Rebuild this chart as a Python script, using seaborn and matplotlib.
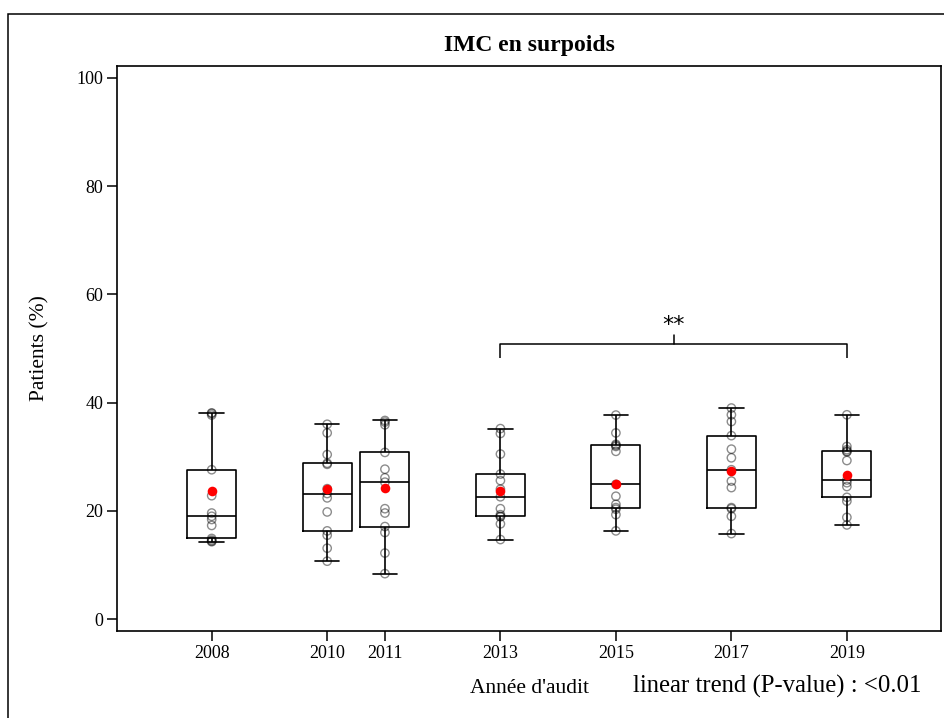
import numpy as np
import pandas as pd
import matplotlib
matplotlib.use("Agg")
import matplotlib.pyplot as plt
from matplotlib.patches import Rectangle
import seaborn as sns

# Audit years and per-centre percentage of overweight patients
years = [2008, 2010, 2011, 2013, 2015, 2017, 2019]
pct_2008 = [14.3, 14.4, 14.6, 14.9, 17.3, 18.4, 19.0, 19.6, 22.8, 27.6, 37.7, 38.0, 38.1]
pct_2010 = [10.7, 13.1, 15.5, 16.3, 19.8, 22.4, 23.2, 24.1, 28.6, 28.8, 30.4, 34.4, 36.0]
pct_2011 = [8.4, 12.2, 16.0, 17.1, 19.6, 20.4, 25.3, 26.1, 27.7, 30.8, 35.9, 36.4, 36.7]
pct_2013 = [14.7, 17.6, 18.9, 19.0, 19.3, 20.4, 22.6, 24.0, 25.6, 26.8, 30.5, 34.3, 35.2]
pct_2015 = [16.3, 19.3, 20.3, 20.6, 21.2, 22.7, 24.9, 31.0, 31.9, 32.1, 32.3, 34.4, 37.7]
pct_2017 = [15.8, 19.0, 20.4, 20.6, 24.3, 25.5, 27.6, 29.8, 31.4, 33.9, 36.5, 37.75, 39.0]
pct_2019 = [17.4, 18.8, 21.8, 22.5, 24.5, 25.2, 25.7, 29.3, 30.9, 31.0, 31.3, 31.9, 37.75]

# Overall percentage over all patients of each audit
overall_pct = [23.6, 24.1, 24.25, 23.75, 24.9, 27.4, 26.7]

y_ticks = [0, 20, 40, 60, 80, 100]

centre_pct = dict(zip(years, [pct_2008, pct_2010, pct_2011, pct_2013,
                              pct_2015, pct_2017, pct_2019]))
df = pd.DataFrame([(yr, v) for yr, vals in centre_pct.items() for v in vals],
                  columns=["annee", "pct"])

sns.set_theme(style="ticks", rc={
    "axes.edgecolor": "black", "xtick.color": "black", "ytick.color": "black",
    "text.color": "black", "axes.labelcolor": "black",
})
plt.rcParams["font.family"] = ["Liberation Serif", "DejaVu Serif"]

W, H = 945, 718
fig = plt.figure(figsize=(W / 100, H / 100), dpi=100)
ax = fig.add_axes([117 / W, 1 - 631 / H, (941 - 117) / W, (631 - 66) / H])

sns.boxplot(data=df, x="annee", y="pct", native_scale=True, orient="x",
            width=0.85, whis=(0, 100), showfliers=False, fill=False,
            color="black", linewidth=1.2, ax=ax)
sns.stripplot(data=df, x="annee", y="pct", native_scale=True, orient="x",
              jitter=False, size=6, marker="o", facecolor="none",
              edgecolor="black", linewidth=1.0, alpha=0.45, zorder=3, ax=ax)
sns.scatterplot(x=years, y=overall_pct, color="red", s=48, edgecolor="red",
                linewidth=0, zorder=5, ax=ax, legend=False)

ax.set_xlim(2006.36, 2020.63)
ax.set_ylim(-2.2, 102.2)
ax.set_xticks(years)
ax.set_xticklabels([str(y) for y in years])
ax.set_yticks(y_ticks)
ax.set_yticklabels([str(t) for t in y_ticks])
ax.tick_params(direction="out", length=7, width=1.1, labelsize=13, pad=3)
ax.set_xlabel("")
ax.set_ylabel("")
for sp in ax.spines.values():
    sp.set_visible(True)
    sp.set_linewidth(1.2)
    sp.set_color("black")

# Significance bracket between 2013 and 2019
ax.plot([2013, 2013, 2019, 2019], [48.2, 50.75, 50.75, 48.2],
        color="black", lw=1.1, solid_capstyle="butt")
ax.plot([2016, 2016], [50.75, 52.5], color="black", lw=1.1)
ax.text(2016, 53.2, "**", ha="center", va="baseline", fontsize=16,
        family="DejaVu Sans")

# Titles and annotations
fig.text(529 / W, 1 - 45 / H, "IMC en surpoids", ha="center", va="center",
         fontsize=17, fontweight="bold")
fig.text(40 / W, 1 - 348 / H, "Patients (%)", ha="center", va="center",
         rotation=90, fontsize=15.5)
fig.text(529 / W, 1 - 693 / H, "Année d'audit", ha="center", va="baseline",
         fontsize=15.5)
fig.text(633 / W, 1 - 693 / H, "linear trend (P-value) : <0.01", ha="left",
         va="baseline", fontsize=17.8)

# Frame around the whole graphic
fig.patches.append(Rectangle((8 / W, -0.05), 1.0, 1 - 14 / H + 0.05,
                             transform=fig.transFigure, fill=False,
                             lw=1.1, ec="black"))

fig.savefig("out.png", dpi=100)
